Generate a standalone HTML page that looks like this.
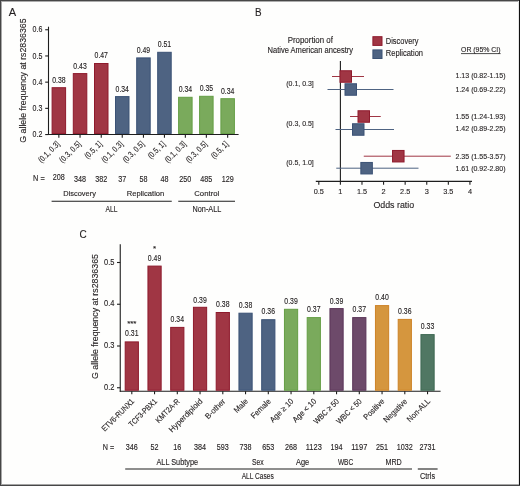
<!DOCTYPE html>
<html><head><meta charset="utf-8"><style>
html,body{margin:0;padding:0;background:#fefefd;}
#w{position:relative;width:520px;height:486px;overflow:hidden;}
svg{position:absolute;left:0;top:0;will-change:transform;}
</style></head><body><div id="w">
<svg width="520" height="486" viewBox="0 0 520 486" font-family='"Liberation Sans", sans-serif' fill="#231f20">
<style>text{stroke:#231f20;stroke-width:0.13px;paint-order:stroke;}</style>
<rect x="0" y="0" width="520" height="486" fill="#fefefd"/>
<text x="8.8" y="15.8" font-size="11.8" textLength="7.4" lengthAdjust="spacingAndGlyphs">A</text>
<text x="26.0" y="142.7" font-size="9.4" textLength="124.3" lengthAdjust="spacingAndGlyphs" transform="rotate(-90 26.0 142.7)">G allele frequency at rs2836365</text>
<line x1="48.5" y1="26.7" x2="48.5" y2="134.95" stroke="#1e1e1e" stroke-width="1.1"/>
<line x1="45.2" y1="134.54999999999998" x2="48.5" y2="134.54999999999998" stroke="#1e1e1e" stroke-width="1.1"/>
<text x="42.4" y="137.2" font-size="8.7" text-anchor="end" textLength="9.8" lengthAdjust="spacingAndGlyphs">0.2</text>
<line x1="45.2" y1="108.34999999999998" x2="48.5" y2="108.34999999999998" stroke="#1e1e1e" stroke-width="1.1"/>
<text x="42.4" y="110.99999999999999" font-size="8.7" text-anchor="end" textLength="9.8" lengthAdjust="spacingAndGlyphs">0.3</text>
<line x1="45.2" y1="82.14999999999998" x2="48.5" y2="82.14999999999998" stroke="#1e1e1e" stroke-width="1.1"/>
<text x="42.4" y="84.79999999999998" font-size="8.7" text-anchor="end" textLength="9.8" lengthAdjust="spacingAndGlyphs">0.4</text>
<line x1="45.2" y1="55.949999999999996" x2="48.5" y2="55.949999999999996" stroke="#1e1e1e" stroke-width="1.1"/>
<text x="42.4" y="58.599999999999994" font-size="8.7" text-anchor="end" textLength="9.8" lengthAdjust="spacingAndGlyphs">0.5</text>
<line x1="45.2" y1="29.749999999999993" x2="48.5" y2="29.749999999999993" stroke="#1e1e1e" stroke-width="1.1"/>
<text x="42.4" y="32.39999999999999" font-size="8.7" text-anchor="end" textLength="9.8" lengthAdjust="spacingAndGlyphs">0.6</text>
<line x1="48.0" y1="134.45" x2="238.6" y2="134.45" stroke="#1e1e1e" stroke-width="1.1"/>
<rect x="52.10" y="87.70" width="13.50" height="45.75" fill="#a03644" stroke="#8e1a2c" stroke-width="1.0"/>
<line x1="58.85" y1="134.45" x2="58.85" y2="137.75" stroke="#1e1e1e" stroke-width="1.1"/>
<text x="58.85" y="82.8" font-size="8.2" text-anchor="middle" textLength="13.4" lengthAdjust="spacingAndGlyphs">0.38</text>
<text x="60.15" y="144.5" font-size="8.3" text-anchor="end" textLength="26.52" lengthAdjust="spacingAndGlyphs" transform="rotate(-45 60.15 144.5)">(0.1, 0.3]</text>
<text x="58.85" y="180.4" font-size="8.4" text-anchor="middle" textLength="12.01" lengthAdjust="spacingAndGlyphs">208</text>
<rect x="73.30" y="73.60" width="13.50" height="59.85" fill="#a03644" stroke="#8e1a2c" stroke-width="1.0"/>
<line x1="80.05" y1="134.45" x2="80.05" y2="137.75" stroke="#1e1e1e" stroke-width="1.1"/>
<text x="80.05" y="68.5" font-size="8.2" text-anchor="middle" textLength="13.4" lengthAdjust="spacingAndGlyphs">0.43</text>
<text x="81.35" y="144.5" font-size="8.3" text-anchor="end" textLength="26.52" lengthAdjust="spacingAndGlyphs" transform="rotate(-45 81.35 144.5)">(0.3, 0.5]</text>
<text x="80.05" y="181.6" font-size="8.4" text-anchor="middle" textLength="12.01" lengthAdjust="spacingAndGlyphs">348</text>
<rect x="94.50" y="63.50" width="13.50" height="69.95" fill="#a03644" stroke="#8e1a2c" stroke-width="1.0"/>
<line x1="101.25" y1="134.45" x2="101.25" y2="137.75" stroke="#1e1e1e" stroke-width="1.1"/>
<text x="101.25" y="58.4" font-size="8.2" text-anchor="middle" textLength="13.4" lengthAdjust="spacingAndGlyphs">0.47</text>
<text x="102.55" y="144.5" font-size="8.3" text-anchor="end" textLength="20.92" lengthAdjust="spacingAndGlyphs" transform="rotate(-45 102.55 144.5)">(0.5, 1]</text>
<text x="101.25" y="181.6" font-size="8.4" text-anchor="middle" textLength="12.01" lengthAdjust="spacingAndGlyphs">382</text>
<rect x="115.50" y="96.60" width="13.50" height="36.85" fill="#4e6382" stroke="#3b5275" stroke-width="1.0"/>
<line x1="122.25" y1="134.45" x2="122.25" y2="137.75" stroke="#1e1e1e" stroke-width="1.1"/>
<text x="122.25" y="91.8" font-size="8.2" text-anchor="middle" textLength="13.4" lengthAdjust="spacingAndGlyphs">0.34</text>
<text x="123.55" y="144.5" font-size="8.3" text-anchor="end" textLength="26.52" lengthAdjust="spacingAndGlyphs" transform="rotate(-45 123.55 144.5)">(0.1, 0.3]</text>
<text x="122.25" y="181.6" font-size="8.4" text-anchor="middle" textLength="8.01" lengthAdjust="spacingAndGlyphs">37</text>
<rect x="136.70" y="57.90" width="13.50" height="75.55" fill="#4e6382" stroke="#3b5275" stroke-width="1.0"/>
<line x1="143.45" y1="134.45" x2="143.45" y2="137.75" stroke="#1e1e1e" stroke-width="1.1"/>
<text x="143.45" y="52.9" font-size="8.2" text-anchor="middle" textLength="13.4" lengthAdjust="spacingAndGlyphs">0.49</text>
<text x="144.75" y="144.5" font-size="8.3" text-anchor="end" textLength="26.52" lengthAdjust="spacingAndGlyphs" transform="rotate(-45 144.75 144.5)">(0.3, 0.5]</text>
<text x="143.45" y="181.6" font-size="8.4" text-anchor="middle" textLength="8.01" lengthAdjust="spacingAndGlyphs">58</text>
<rect x="157.70" y="52.30" width="13.50" height="81.15" fill="#4e6382" stroke="#3b5275" stroke-width="1.0"/>
<line x1="164.45" y1="134.45" x2="164.45" y2="137.75" stroke="#1e1e1e" stroke-width="1.1"/>
<text x="164.45" y="46.85" font-size="8.2" text-anchor="middle" textLength="13.4" lengthAdjust="spacingAndGlyphs">0.51</text>
<text x="165.75" y="144.5" font-size="8.3" text-anchor="end" textLength="20.92" lengthAdjust="spacingAndGlyphs" transform="rotate(-45 165.75 144.5)">(0.5, 1]</text>
<text x="164.45" y="181.6" font-size="8.4" text-anchor="middle" textLength="8.01" lengthAdjust="spacingAndGlyphs">48</text>
<rect x="178.60" y="97.30" width="13.50" height="36.15" fill="#7aaa5c" stroke="#649e44" stroke-width="1.0"/>
<line x1="185.35" y1="134.45" x2="185.35" y2="137.75" stroke="#1e1e1e" stroke-width="1.1"/>
<text x="185.35" y="91.5" font-size="8.2" text-anchor="middle" textLength="13.4" lengthAdjust="spacingAndGlyphs">0.34</text>
<text x="186.65" y="144.5" font-size="8.3" text-anchor="end" textLength="26.52" lengthAdjust="spacingAndGlyphs" transform="rotate(-45 186.65 144.5)">(0.1, 0.3]</text>
<text x="185.35" y="181.6" font-size="8.4" text-anchor="middle" textLength="12.01" lengthAdjust="spacingAndGlyphs">250</text>
<rect x="199.60" y="96.30" width="13.50" height="37.15" fill="#7aaa5c" stroke="#649e44" stroke-width="1.0"/>
<line x1="206.35" y1="134.45" x2="206.35" y2="137.75" stroke="#1e1e1e" stroke-width="1.1"/>
<text x="206.35" y="90.9" font-size="8.2" text-anchor="middle" textLength="13.4" lengthAdjust="spacingAndGlyphs">0.35</text>
<text x="207.65" y="144.5" font-size="8.3" text-anchor="end" textLength="26.52" lengthAdjust="spacingAndGlyphs" transform="rotate(-45 207.65 144.5)">(0.3, 0.5]</text>
<text x="206.35" y="181.6" font-size="8.4" text-anchor="middle" textLength="12.01" lengthAdjust="spacingAndGlyphs">485</text>
<rect x="220.90" y="98.70" width="13.50" height="34.75" fill="#7aaa5c" stroke="#649e44" stroke-width="1.0"/>
<line x1="227.65" y1="134.45" x2="227.65" y2="137.75" stroke="#1e1e1e" stroke-width="1.1"/>
<text x="227.65" y="93.6" font-size="8.2" text-anchor="middle" textLength="13.4" lengthAdjust="spacingAndGlyphs">0.34</text>
<text x="228.95" y="144.5" font-size="8.3" text-anchor="end" textLength="20.92" lengthAdjust="spacingAndGlyphs" transform="rotate(-45 228.95 144.5)">(0.5, 1]</text>
<text x="227.65" y="181.6" font-size="8.4" text-anchor="middle" textLength="12.01" lengthAdjust="spacingAndGlyphs">129</text>
<text x="33.1" y="181.4" font-size="8.4" textLength="11.6" lengthAdjust="spacingAndGlyphs">N =</text>
<text x="79.6" y="195.9" font-size="7.6" text-anchor="middle" textLength="32.6" lengthAdjust="spacingAndGlyphs">Discovery</text>
<text x="145.5" y="195.9" font-size="7.6" text-anchor="middle" textLength="37.5" lengthAdjust="spacingAndGlyphs">Replication</text>
<text x="206.75" y="195.9" font-size="7.6" text-anchor="middle" textLength="25" lengthAdjust="spacingAndGlyphs">Control</text>
<line x1="51.6" y1="201.2" x2="171.75" y2="201.2" stroke="#1e1e1e" stroke-width="1.1"/>
<line x1="178.25" y1="201.2" x2="235" y2="201.2" stroke="#1e1e1e" stroke-width="1.1"/>
<text x="111.6" y="211.8" font-size="8.5" text-anchor="middle" textLength="12" lengthAdjust="spacingAndGlyphs">ALL</text>
<text x="206.9" y="211.9" font-size="8.5" text-anchor="middle" textLength="28.7" lengthAdjust="spacingAndGlyphs">Non-ALL</text>
<text x="255.0" y="15.8" font-size="11.8" textLength="6.6" lengthAdjust="spacingAndGlyphs">B</text>
<text x="310.3" y="43.3" font-size="8.5" text-anchor="middle" textLength="45.2" lengthAdjust="spacingAndGlyphs">Proportion of</text>
<text x="310.3" y="52.7" font-size="8.5" text-anchor="middle" textLength="85.6" lengthAdjust="spacingAndGlyphs">Native American ancestry</text>
<rect x="372.90" y="36.70" width="9.10" height="8.70" fill="#a03644" stroke="#8e1a2c" stroke-width="1.0"/>
<rect x="372.90" y="49.90" width="9.10" height="8.60" fill="#4e6382" stroke="#3b5275" stroke-width="1.0"/>
<text x="385.8" y="43.9" font-size="8.5" textLength="32.7" lengthAdjust="spacingAndGlyphs">Discovery</text>
<text x="385.8" y="55.9" font-size="8.5" textLength="37.2" lengthAdjust="spacingAndGlyphs">Replication</text>
<text x="461" y="52.2" font-size="8" textLength="39.6" lengthAdjust="spacingAndGlyphs">OR (95% CI)</text>
<line x1="461" y1="53.6" x2="500.6" y2="53.6" stroke="#1e1e1e" stroke-width="0.8"/>
<line x1="340.4" y1="61" x2="340.4" y2="181.4" stroke="#1e1e1e" stroke-width="1.1"/>
<line x1="315.8" y1="181.4" x2="472" y2="181.4" stroke="#1e1e1e" stroke-width="1.1"/>
<line x1="318.8" y1="181.4" x2="318.8" y2="184.8" stroke="#1e1e1e" stroke-width="1.1"/>
<text x="318.8" y="194.4" font-size="8" text-anchor="middle" textLength="10.15" lengthAdjust="spacingAndGlyphs">0.5</text>
<line x1="340.39" y1="181.4" x2="340.39" y2="184.8" stroke="#1e1e1e" stroke-width="1.1"/>
<text x="340.39" y="194.4" font-size="8" text-anchor="middle" textLength="4.1" lengthAdjust="spacingAndGlyphs">1</text>
<line x1="361.98" y1="181.4" x2="361.98" y2="184.8" stroke="#1e1e1e" stroke-width="1.1"/>
<text x="361.98" y="194.4" font-size="8" text-anchor="middle" textLength="10.15" lengthAdjust="spacingAndGlyphs">1.5</text>
<line x1="383.57" y1="181.4" x2="383.57" y2="184.8" stroke="#1e1e1e" stroke-width="1.1"/>
<text x="383.57" y="194.4" font-size="8" text-anchor="middle" textLength="4.1" lengthAdjust="spacingAndGlyphs">2</text>
<line x1="405.16" y1="181.4" x2="405.16" y2="184.8" stroke="#1e1e1e" stroke-width="1.1"/>
<text x="405.16" y="194.4" font-size="8" text-anchor="middle" textLength="10.15" lengthAdjust="spacingAndGlyphs">2.5</text>
<line x1="426.75" y1="181.4" x2="426.75" y2="184.8" stroke="#1e1e1e" stroke-width="1.1"/>
<text x="426.75" y="194.4" font-size="8" text-anchor="middle" textLength="4.1" lengthAdjust="spacingAndGlyphs">3</text>
<line x1="448.34000000000003" y1="181.4" x2="448.34000000000003" y2="184.8" stroke="#1e1e1e" stroke-width="1.1"/>
<text x="448.34000000000003" y="194.4" font-size="8" text-anchor="middle" textLength="10.15" lengthAdjust="spacingAndGlyphs">3.5</text>
<line x1="469.93" y1="181.4" x2="469.93" y2="184.8" stroke="#1e1e1e" stroke-width="1.1"/>
<text x="469.93" y="194.4" font-size="8" text-anchor="middle" textLength="4.1" lengthAdjust="spacingAndGlyphs">4</text>
<text x="393.8" y="207.6" font-size="9.5" text-anchor="middle" textLength="40.8" lengthAdjust="spacingAndGlyphs">Odds ratio</text>
<text x="286.25" y="86.05" font-size="8" textLength="27.5" lengthAdjust="spacingAndGlyphs">(0.1, 0.3]</text>
<text x="286.25" y="125.8" font-size="8" textLength="27.5" lengthAdjust="spacingAndGlyphs">(0.3, 0.5]</text>
<text x="286.25" y="164.55" font-size="8" textLength="27.5" lengthAdjust="spacingAndGlyphs">(0.5, 1.0]</text>
<line x1="332" y1="76.5" x2="364" y2="76.5" stroke="#a03644" stroke-width="1"/>
<rect x="340.00" y="70.75" width="11.50" height="11.50" fill="#a03644" stroke="#8e1a2c" stroke-width="1.0"/>
<line x1="327.5" y1="89.5" x2="393.5" y2="89.5" stroke="#4e6382" stroke-width="1"/>
<rect x="345.00" y="83.75" width="11.50" height="11.50" fill="#4e6382" stroke="#3b5275" stroke-width="1.0"/>
<line x1="350" y1="116.5" x2="380.75" y2="116.5" stroke="#a03644" stroke-width="1"/>
<rect x="358.00" y="110.75" width="11.50" height="11.50" fill="#a03644" stroke="#8e1a2c" stroke-width="1.0"/>
<line x1="335.5" y1="129.5" x2="394" y2="129.5" stroke="#4e6382" stroke-width="1"/>
<rect x="352.50" y="123.75" width="11.50" height="11.50" fill="#4e6382" stroke="#3b5275" stroke-width="1.0"/>
<line x1="363.75" y1="156.2" x2="450.8" y2="156.2" stroke="#a03644" stroke-width="1"/>
<rect x="392.55" y="150.45" width="11.50" height="11.50" fill="#a03644" stroke="#8e1a2c" stroke-width="1.0"/>
<line x1="336.25" y1="168.2" x2="418.5" y2="168.2" stroke="#4e6382" stroke-width="1"/>
<rect x="360.85" y="162.45" width="11.50" height="11.50" fill="#4e6382" stroke="#3b5275" stroke-width="1.0"/>
<text x="505.5" y="78.2" font-size="8" text-anchor="end" textLength="50" lengthAdjust="spacingAndGlyphs">1.13 (0.82-1.15)</text>
<text x="505.5" y="92.0" font-size="8" text-anchor="end" textLength="50" lengthAdjust="spacingAndGlyphs">1.24 (0.69-2.22)</text>
<text x="505.5" y="118.60000000000001" font-size="8" text-anchor="end" textLength="50" lengthAdjust="spacingAndGlyphs">1.55 (1.24-1.93)</text>
<text x="505.5" y="131.3" font-size="8" text-anchor="end" textLength="50" lengthAdjust="spacingAndGlyphs">1.42 (0.89-2.25)</text>
<text x="505.5" y="158.6" font-size="8" text-anchor="end" textLength="50" lengthAdjust="spacingAndGlyphs">2.35 (1.55-3.57)</text>
<text x="505.5" y="170.9" font-size="8" text-anchor="end" textLength="50" lengthAdjust="spacingAndGlyphs">1.61 (0.92-2.80)</text>
<text x="79.4" y="238.2" font-size="10.8" textLength="7.2" lengthAdjust="spacingAndGlyphs">C</text>
<text x="97.8" y="379.0" font-size="9.4" textLength="125.0" lengthAdjust="spacingAndGlyphs" transform="rotate(-90 97.8 379.0)">G allele frequency at rs2836365</text>
<line x1="120.25" y1="244.3" x2="120.25" y2="391.8" stroke="#1e1e1e" stroke-width="1.1"/>
<line x1="117.0" y1="387.75" x2="120.25" y2="387.75" stroke="#1e1e1e" stroke-width="1.1"/>
<text x="114.4" y="389.75" font-size="8.7" text-anchor="end" textLength="10.4" lengthAdjust="spacingAndGlyphs">0.2</text>
<line x1="117.0" y1="346.0" x2="120.25" y2="346.0" stroke="#1e1e1e" stroke-width="1.1"/>
<text x="114.4" y="348.0" font-size="8.7" text-anchor="end" textLength="10.4" lengthAdjust="spacingAndGlyphs">0.3</text>
<line x1="117.0" y1="304.25" x2="120.25" y2="304.25" stroke="#1e1e1e" stroke-width="1.1"/>
<text x="114.4" y="306.25" font-size="8.7" text-anchor="end" textLength="10.4" lengthAdjust="spacingAndGlyphs">0.4</text>
<line x1="117.0" y1="262.5" x2="120.25" y2="262.5" stroke="#1e1e1e" stroke-width="1.1"/>
<text x="114.4" y="264.5" font-size="8.7" text-anchor="end" textLength="10.4" lengthAdjust="spacingAndGlyphs">0.5</text>
<line x1="119.75" y1="391.25" x2="440.6" y2="391.25" stroke="#1e1e1e" stroke-width="1.1"/>
<rect x="125.20" y="341.90" width="13.20" height="48.35" fill="#a03644" stroke="#8e1a2c" stroke-width="1.0"/>
<line x1="131.8" y1="391.25" x2="131.8" y2="394.35" stroke="#1e1e1e" stroke-width="1.1"/>
<text x="131.8" y="336.4" font-size="8.2" text-anchor="middle" textLength="13.4" lengthAdjust="spacingAndGlyphs">0.31</text>
<text x="134.8" y="401.9" font-size="8.0" text-anchor="end" textLength="42.35" lengthAdjust="spacingAndGlyphs" transform="rotate(-45 134.8 401.9)">ETV6-RUNX1</text>
<text x="131.8" y="449.6" font-size="8.4" text-anchor="middle" textLength="12.0" lengthAdjust="spacingAndGlyphs">346</text>
<rect x="147.95" y="266.10" width="13.20" height="124.15" fill="#a03644" stroke="#8e1a2c" stroke-width="1.0"/>
<line x1="154.54999999999998" y1="391.25" x2="154.54999999999998" y2="394.35" stroke="#1e1e1e" stroke-width="1.1"/>
<text x="154.54999999999998" y="260.7" font-size="8.2" text-anchor="middle" textLength="13.4" lengthAdjust="spacingAndGlyphs">0.49</text>
<text x="157.55" y="401.9" font-size="8.0" text-anchor="end" textLength="36.34" lengthAdjust="spacingAndGlyphs" transform="rotate(-45 157.55 401.9)">TCF3-PBX1</text>
<text x="154.54999999999998" y="449.6" font-size="8.4" text-anchor="middle" textLength="8.0" lengthAdjust="spacingAndGlyphs">52</text>
<rect x="170.70" y="327.40" width="13.20" height="62.85" fill="#a03644" stroke="#8e1a2c" stroke-width="1.0"/>
<line x1="177.29999999999998" y1="391.25" x2="177.29999999999998" y2="394.35" stroke="#1e1e1e" stroke-width="1.1"/>
<text x="177.29999999999998" y="322" font-size="8.2" text-anchor="middle" textLength="13.4" lengthAdjust="spacingAndGlyphs">0.34</text>
<text x="180.3" y="401.9" font-size="8.0" text-anchor="end" textLength="30.5" lengthAdjust="spacingAndGlyphs" transform="rotate(-45 180.3 401.9)">KMT2A-R</text>
<text x="177.29999999999998" y="449.6" font-size="8.4" text-anchor="middle" textLength="8.0" lengthAdjust="spacingAndGlyphs">16</text>
<rect x="193.45" y="307.30" width="13.20" height="82.95" fill="#a03644" stroke="#8e1a2c" stroke-width="1.0"/>
<line x1="200.04999999999998" y1="391.25" x2="200.04999999999998" y2="394.35" stroke="#1e1e1e" stroke-width="1.1"/>
<text x="200.04999999999998" y="302.5" font-size="8.2" text-anchor="middle" textLength="13.4" lengthAdjust="spacingAndGlyphs">0.39</text>
<text x="203.05" y="401.9" font-size="8.0" text-anchor="end" textLength="43.76" lengthAdjust="spacingAndGlyphs" transform="rotate(-45 203.05 401.9)">Hyperdiploid</text>
<text x="200.04999999999998" y="449.6" font-size="8.4" text-anchor="middle" textLength="12.0" lengthAdjust="spacingAndGlyphs">384</text>
<rect x="216.20" y="312.50" width="13.20" height="77.75" fill="#a03644" stroke="#8e1a2c" stroke-width="1.0"/>
<line x1="222.79999999999998" y1="391.25" x2="222.79999999999998" y2="394.35" stroke="#1e1e1e" stroke-width="1.1"/>
<text x="222.79999999999998" y="307.1" font-size="8.2" text-anchor="middle" textLength="13.4" lengthAdjust="spacingAndGlyphs">0.38</text>
<text x="225.8" y="401.9" font-size="8.0" text-anchor="end" textLength="24.9" lengthAdjust="spacingAndGlyphs" transform="rotate(-45 225.8 401.9)">B-other</text>
<text x="222.79999999999998" y="449.6" font-size="8.4" text-anchor="middle" textLength="12.0" lengthAdjust="spacingAndGlyphs">593</text>
<rect x="238.95" y="313.20" width="13.20" height="77.05" fill="#4e6382" stroke="#3b5275" stroke-width="1.0"/>
<line x1="245.54999999999998" y1="391.25" x2="245.54999999999998" y2="394.35" stroke="#1e1e1e" stroke-width="1.1"/>
<text x="245.54999999999998" y="308" font-size="8.2" text-anchor="middle" textLength="13.4" lengthAdjust="spacingAndGlyphs">0.38</text>
<text x="248.55" y="401.9" font-size="8.0" text-anchor="end" textLength="16.18" lengthAdjust="spacingAndGlyphs" transform="rotate(-45 248.55 401.9)">Male</text>
<text x="245.54999999999998" y="449.6" font-size="8.4" text-anchor="middle" textLength="12.0" lengthAdjust="spacingAndGlyphs">738</text>
<rect x="261.70" y="319.70" width="13.20" height="70.55" fill="#4e6382" stroke="#3b5275" stroke-width="1.0"/>
<line x1="268.3" y1="391.25" x2="268.3" y2="394.35" stroke="#1e1e1e" stroke-width="1.1"/>
<text x="268.3" y="314.4" font-size="8.2" text-anchor="middle" textLength="13.4" lengthAdjust="spacingAndGlyphs">0.36</text>
<text x="271.3" y="401.9" font-size="8.0" text-anchor="end" textLength="24.33" lengthAdjust="spacingAndGlyphs" transform="rotate(-45 271.3 401.9)">Female</text>
<text x="268.3" y="449.6" font-size="8.4" text-anchor="middle" textLength="12.0" lengthAdjust="spacingAndGlyphs">653</text>
<rect x="284.45" y="309.30" width="13.20" height="80.95" fill="#7aaa5c" stroke="#649e44" stroke-width="1.0"/>
<line x1="291.05" y1="391.25" x2="291.05" y2="394.35" stroke="#1e1e1e" stroke-width="1.1"/>
<text x="291.05" y="304.1" font-size="8.2" text-anchor="middle" textLength="13.4" lengthAdjust="spacingAndGlyphs">0.39</text>
<text x="294.05" y="401.9" font-size="8.0" text-anchor="end" textLength="29.74" lengthAdjust="spacingAndGlyphs" transform="rotate(-45 294.05 401.9)">Age ≥ 10</text>
<text x="291.05" y="449.6" font-size="8.4" text-anchor="middle" textLength="12.0" lengthAdjust="spacingAndGlyphs">268</text>
<rect x="307.20" y="317.60" width="13.20" height="72.65" fill="#7aaa5c" stroke="#649e44" stroke-width="1.0"/>
<line x1="313.8" y1="391.25" x2="313.8" y2="394.35" stroke="#1e1e1e" stroke-width="1.1"/>
<text x="313.8" y="312.4" font-size="8.2" text-anchor="middle" textLength="13.4" lengthAdjust="spacingAndGlyphs">0.37</text>
<text x="316.8" y="401.9" font-size="8.0" text-anchor="end" textLength="29.74" lengthAdjust="spacingAndGlyphs" transform="rotate(-45 316.8 401.9)">Age &lt; 10</text>
<text x="313.8" y="449.6" font-size="8.4" text-anchor="middle" textLength="16.01" lengthAdjust="spacingAndGlyphs">1123</text>
<rect x="329.95" y="308.60" width="13.20" height="81.65" fill="#6d4a6a" stroke="#5a3458" stroke-width="1.0"/>
<line x1="336.55" y1="391.25" x2="336.55" y2="394.35" stroke="#1e1e1e" stroke-width="1.1"/>
<text x="336.55" y="303.8" font-size="8.2" text-anchor="middle" textLength="13.4" lengthAdjust="spacingAndGlyphs">0.39</text>
<text x="339.55" y="401.9" font-size="8.0" text-anchor="end" textLength="32.11" lengthAdjust="spacingAndGlyphs" transform="rotate(-45 339.55 401.9)">WBC ≥ 50</text>
<text x="336.55" y="449.6" font-size="8.4" text-anchor="middle" textLength="12.0" lengthAdjust="spacingAndGlyphs">194</text>
<rect x="352.70" y="317.60" width="13.20" height="72.65" fill="#6d4a6a" stroke="#5a3458" stroke-width="1.0"/>
<line x1="359.3" y1="391.25" x2="359.3" y2="394.35" stroke="#1e1e1e" stroke-width="1.1"/>
<text x="359.3" y="312.4" font-size="8.2" text-anchor="middle" textLength="13.4" lengthAdjust="spacingAndGlyphs">0.37</text>
<text x="362.3" y="401.9" font-size="8.0" text-anchor="end" textLength="32.11" lengthAdjust="spacingAndGlyphs" transform="rotate(-45 362.3 401.9)">WBC &lt; 50</text>
<text x="359.3" y="449.6" font-size="8.4" text-anchor="middle" textLength="16.01" lengthAdjust="spacingAndGlyphs">1197</text>
<rect x="375.45" y="305.60" width="13.20" height="84.65" fill="#d5963e" stroke="#cd8226" stroke-width="1.0"/>
<line x1="382.05" y1="391.25" x2="382.05" y2="394.35" stroke="#1e1e1e" stroke-width="1.1"/>
<text x="382.05" y="300.3" font-size="8.2" text-anchor="middle" textLength="13.4" lengthAdjust="spacingAndGlyphs">0.40</text>
<text x="385.05" y="401.9" font-size="8.0" text-anchor="end" textLength="26.06" lengthAdjust="spacingAndGlyphs" transform="rotate(-45 385.05 401.9)">Positive</text>
<text x="382.05" y="449.6" font-size="8.4" text-anchor="middle" textLength="12.0" lengthAdjust="spacingAndGlyphs">251</text>
<rect x="398.20" y="319.40" width="13.20" height="70.85" fill="#d5963e" stroke="#cd8226" stroke-width="1.0"/>
<line x1="404.8" y1="391.25" x2="404.8" y2="394.35" stroke="#1e1e1e" stroke-width="1.1"/>
<text x="404.8" y="313.8" font-size="8.2" text-anchor="middle" textLength="13.4" lengthAdjust="spacingAndGlyphs">0.36</text>
<text x="407.8" y="401.9" font-size="8.0" text-anchor="end" textLength="29.98" lengthAdjust="spacingAndGlyphs" transform="rotate(-45 407.8 401.9)">Negative</text>
<text x="404.8" y="449.6" font-size="8.4" text-anchor="middle" textLength="16.01" lengthAdjust="spacingAndGlyphs">1032</text>
<rect x="420.95" y="334.60" width="13.20" height="55.65" fill="#507763" stroke="#3d6852" stroke-width="1.0"/>
<line x1="427.55" y1="391.25" x2="427.55" y2="394.35" stroke="#1e1e1e" stroke-width="1.1"/>
<text x="427.55" y="329.4" font-size="8.2" text-anchor="middle" textLength="13.4" lengthAdjust="spacingAndGlyphs">0.33</text>
<text x="430.55" y="401.9" font-size="8.0" text-anchor="end" textLength="29.0" lengthAdjust="spacingAndGlyphs" transform="rotate(-45 430.55 401.9)">Non-ALL</text>
<text x="427.55" y="449.6" font-size="8.4" text-anchor="middle" textLength="16.01" lengthAdjust="spacingAndGlyphs">2731</text>
<text x="131.8" y="326.0" font-size="8" text-anchor="middle">***</text>
<text x="154.54999999999998" y="250.5" font-size="8" text-anchor="middle">*</text>
<text x="102.7" y="449.6" font-size="8.4" textLength="11.4" lengthAdjust="spacingAndGlyphs">N =</text>
<text x="177.25" y="464.6" font-size="8.5" text-anchor="middle" textLength="41.5" lengthAdjust="spacingAndGlyphs">ALL Subtype</text>
<text x="257.85" y="464.6" font-size="8.5" text-anchor="middle" textLength="11.7" lengthAdjust="spacingAndGlyphs">Sex</text>
<text x="302.6" y="464.6" font-size="8.5" text-anchor="middle" textLength="13.2" lengthAdjust="spacingAndGlyphs">Age</text>
<text x="345.6" y="464.6" font-size="8.5" text-anchor="middle" textLength="15.4" lengthAdjust="spacingAndGlyphs">WBC</text>
<text x="393.6" y="464.6" font-size="8.5" text-anchor="middle" textLength="16.3" lengthAdjust="spacingAndGlyphs">MRD</text>
<line x1="125.2" y1="469.0" x2="412" y2="469.0" stroke="#1e1e1e" stroke-width="1.1"/>
<line x1="417.8" y1="469.0" x2="437.6" y2="469.0" stroke="#1e1e1e" stroke-width="1.1"/>
<text x="241.7" y="479.0" font-size="8.5" textLength="32.1" lengthAdjust="spacingAndGlyphs">ALL Cases</text>
<text x="420" y="479.0" font-size="8.5" textLength="15.1" lengthAdjust="spacingAndGlyphs">Ctrls</text>
<rect x="0" y="0" width="520" height="1" fill="#474747"/>
<rect x="1" y="1" width="518" height="1" fill="#acacac"/>
<rect x="0" y="0" width="1" height="486" fill="#464646"/>
<rect x="1" y="1" width="1" height="484" fill="#a8a8a8"/>
<rect x="519" y="0" width="1" height="486" fill="#111"/>
<rect x="518" y="1" width="1" height="484" fill="#e6e6e6"/>
<rect x="0" y="485" width="520" height="1" fill="#474747"/>
<rect x="1" y="484" width="518" height="1" fill="#a5a5a5"/>
</svg></div></body></html>
